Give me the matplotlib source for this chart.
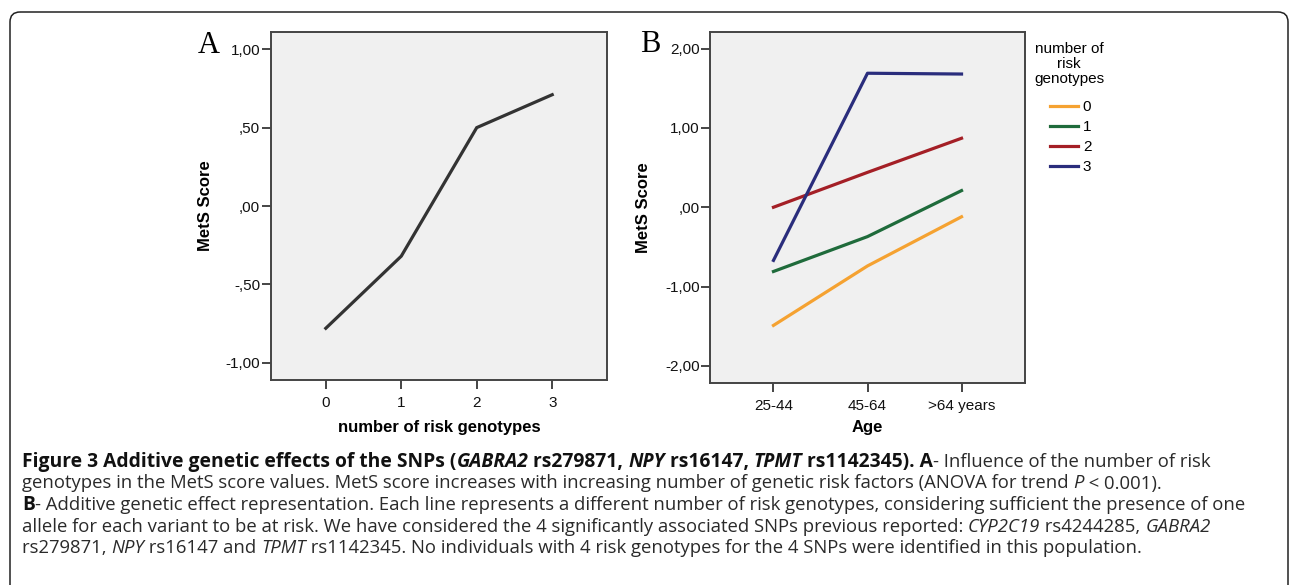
import numpy as np
import matplotlib
matplotlib.use("Agg")
import matplotlib.pyplot as plt
from matplotlib.patches import FancyBboxPatch

# ---- data ----
risk_n = [0, 1, 2, 3]
mets_by_n = [-0.78, -0.32, 0.50, 0.71]

age_groups = ["25-44", "45-64", ">64 years"]
grp_labels = ["0", "1", "2", "3"]
mets_g0 = [-1.49, -0.74, -0.12]
mets_g1 = [-0.81, -0.37, 0.21]
mets_g2 = [0.00, 0.44, 0.87]
mets_g3 = [-0.67, 1.69, 1.68]
grp_colors = ["#f5a231", "#1f6b3b", "#a41f26", "#2a2d7c"]

yticks_a = [-1.0, -0.5, 0.0, 0.5, 1.0]
yticklabels_a = ["-1,00", "-,50", ",00", ",50", "1,00"]
yticks_b = [-2.0, -1.0, 0.0, 1.0, 2.0]
yticklabels_b = ["-2,00", "-1,00", ",00", "1,00", "2,00"]

W, H = 1290, 585
fig = plt.figure(figsize=(W / 100, H / 100), dpi=100)
plt.rcParams['font.family'] = ['Liberation Sans', 'DejaVu Sans']

def style_axes(ax):
    ax.set_facecolor("#f0f0f0")
    for s in ax.spines.values():
        s.set_color("#444444")
        s.set_linewidth(1.4)
    ax.tick_params(direction='out', length=6.5, width=1.4, color="#444444",
                   labelsize=11, labelcolor="#111111")
    ax.tick_params(axis='y', pad=1)
    ax.tick_params(axis='x', pad=5)

# panel A
axA = fig.add_axes([270.7 / W, 1 - 380 / H, 336.6 / W, 348 / H])
style_axes(axA)
axA.plot(risk_n, mets_by_n, color="#333333", lw=2.3, solid_joinstyle='miter')
axA.set_xlim(-0.73, 3.73)
axA.set_ylim(-1.11, 1.11)
axA.set_xticks(risk_n)
axA.set_yticks(yticks_a)
axA.set_yticklabels(yticklabels_a)
axA.set_xlabel("number of risk genotypes", fontsize=12, fontweight='bold')
axA.set_ylabel("MetS Score", fontsize=12, fontweight='bold')
axA.xaxis.set_label_coords(0.5, -0.116)
axA.yaxis.set_label_coords(-0.171, 0.5)

# panel B
axB = fig.add_axes([710 / W, 1 - 383.3 / H, 315 / W, 351.3 / H])
style_axes(axB)
xb = np.arange(len(age_groups))
for vals, lab, c in zip([mets_g0, mets_g1, mets_g2, mets_g3], grp_labels, grp_colors):
    axB.plot(xb, vals, color=c, lw=2.3, label=lab)
axB.set_xlim(-0.675, 2.675)
axB.set_ylim(-2.22, 2.21)
axB.set_xticks(xb)
axB.set_xticklabels(age_groups)
axB.set_yticks(yticks_b)
axB.set_yticklabels(yticklabels_b)
axB.set_xlabel("Age", fontsize=12, fontweight='bold')
axB.set_ylabel("MetS Score", fontsize=12, fontweight='bold')
axB.xaxis.set_label_coords(0.5, -0.105)
axB.yaxis.set_label_coords(-0.187, 0.5)

leg = fig.legend(loc='upper left', bbox_to_anchor=(1050 / W, 1 - 100 / H),
                 frameon=False, fontsize=11, handlelength=1.85, handletextpad=0.3,
                 labelspacing=0.4, borderpad=0, borderaxespad=0)
fig.text(1069 / W, 1 - 64 / H, "number of\nrisk\ngenotypes", fontsize=11,
         ha='center', va='center', multialignment='center', linespacing=1.1)

# overlay in pixel coordinates for frame, panel letters and caption
ov = fig.add_axes([0, 0, 1, 1], zorder=-1)
ov.set_xlim(0, W)
ov.set_ylim(H, 0)
ov.axis('off')
ov.add_patch(FancyBboxPatch((10, 12), 1278, 620, boxstyle="round,pad=0,rounding_size=10",
                            fc='none', ec='#222222', lw=1.1))
ov.text(209, 53, "A", family='Liberation Serif', fontsize=22, ha='center', va='baseline')
ov.text(650, 52, "B", family='Liberation Serif', fontsize=22, ha='center', va='baseline')

caption = [
    [("Figure 3 Additive genetic effects of the SNPs (", 'bold', 'normal'),
     ("GABRA2", 'bold', 'italic'), (" rs279871, ", 'bold', 'normal'),
     ("NPY", 'bold', 'italic'), (" rs16147, ", 'bold', 'normal'),
     ("TPMT", 'bold', 'italic'), (" rs1142345). A", 'bold', 'normal'),
     ("- Influence of the number of risk", 'normal', 'normal')],
    [("genotypes in the MetS score values. MetS score increases with increasing number of genetic risk factors (ANOVA for trend ", 'normal', 'normal'),
     ("P", 'normal', 'italic'), (" < 0.001).", 'normal', 'normal')],
    [("B", 'bold', 'normal'),
     ("- Additive genetic effect representation. Each line represents a different number of risk genotypes, considering sufficient the presence of one", 'normal', 'normal')],
    [("allele for each variant to be at risk. We have considered the 4 significantly associated SNPs previous reported: ", 'normal', 'normal'),
     ("CYP2C19", 'normal', 'italic'), (" rs4244285, ", 'normal', 'normal'),
     ("GABRA2", 'normal', 'italic')],
    [("rs279871, ", 'normal', 'normal'), ("NPY", 'normal', 'italic'),
     (" rs16147 and ", 'normal', 'normal'), ("TPMT", 'normal', 'italic'),
     (" rs1142345. No individuals with 4 risk genotypes for the 4 SNPs were identified in this population.", 'normal', 'normal')],
]

renderer = fig.canvas.get_renderer()
cap_font = {'normal': 13.3, 'bold': 13.9}
def width(s, w, st):
    t = ov.text(0, 0, s + "|", family='Open Sans', fontsize=cap_font[w], fontweight=w, fontstyle=st)
    t2 = ov.text(0, 0, "|", family='Open Sans', fontsize=cap_font[w], fontweight=w, fontstyle=st)
    wd = t.get_window_extent(renderer).width - t2.get_window_extent(renderer).width
    t.remove(); t2.remove()
    return wd

for i, line in enumerate(caption):
    x = 22
    y = 467 + 21.5 * i
    for s, w, st in line:
        ov.text(x, y, s, family='Open Sans', fontsize=cap_font[w], fontweight=w,
                fontstyle=st, color='#111111' if w == 'bold' else '#2a2a2a',
                va='baseline')
        x += width(s, w, st)

fig.savefig("out.png", dpi=100)
